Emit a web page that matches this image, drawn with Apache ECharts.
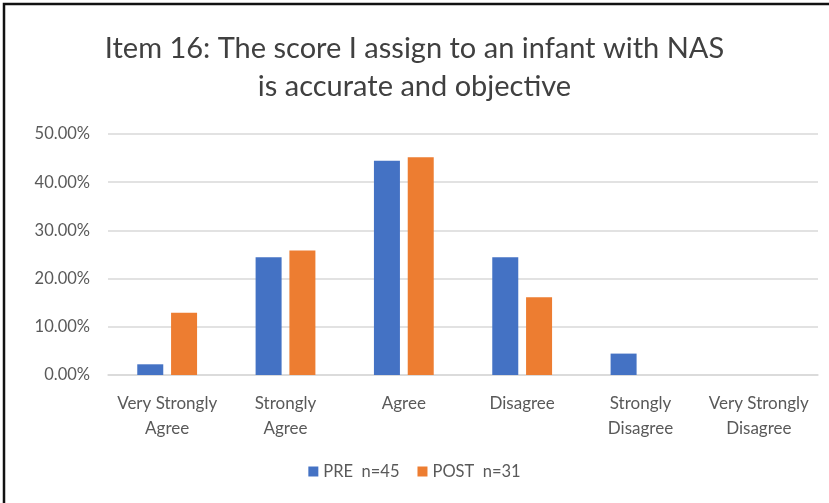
<!DOCTYPE html>
<html><head><meta charset="utf-8">
<script src="https://cdn.jsdelivr.net/npm/echarts@6/dist/echarts.min.js"></script>
<style>html,body{margin:0;padding:0;background:#fff}#c{width:829px;height:503px}</style>
</head><body><div id="c"></div>
<script>
var categories = ["Very Strongly\nAgree", "Strongly\nAgree", "Agree", "Disagree", "Strongly\nDisagree", "Very Strongly\nDisagree"];
var preValues = [0.0222, 0.2444, 0.4444, 0.2444, 0.0444, 0];
var postValues = [0.1290, 0.2581, 0.4516, 0.1613, 0, 0];
var seriesNames = ["PRE  n=45", "POST  n=31"];
var titleText = "Item 16: The score I assign to an infant with NAS\nis accurate and objective";

var font = "Lato, 'Open Sans', sans-serif";
var chart = echarts.init(document.getElementById('c'), null, {renderer: 'canvas'});
chart.setOption({
  animation: false,
  backgroundColor: '#fff',
  color: ['#4472C4', '#ED7D31'],
  title: {
    text: titleText, left: 'center', top: 25,
    textStyle: {fontFamily: font, fontSize: 29, fontWeight: 'normal', color: '#404040', lineHeight: 38}
  },
  graphic: [{type: 'rect', shape: {x: 4, y: 4, width: 900, height: 600}, style: {fill: 'none', stroke: '#111', lineWidth: 2.5}, silent: true}],
  legend: {
    data: seriesNames, bottom: 18, left: 'center', itemWidth: 10, itemHeight: 10, itemGap: 18, icon: 'rect',
    textStyle: {fontFamily: font, fontSize: 16.5, color: '#595959'}
  },
  grid: {left: 108, right: 11, top: 134, bottom: 128},
  xAxis: {
    type: 'category', data: categories,
    axisLine: {show: true, lineStyle: {color: '#d9d9d9', width: 1.5}},
    axisTick: {show: false},
    axisLabel: {fontFamily: font, fontSize: 17, color: '#595959', lineHeight: 25, margin: 16, interval: 0}
  },
  yAxis: {
    type: 'value', min: 0, max: 0.5, interval: 0.1,
    axisLine: {show: false}, axisTick: {show: false},
    splitLine: {lineStyle: {color: '#d9d9d9', width: 1.5}},
    axisLabel: {fontFamily: font, fontSize: 16.5, color: '#595959', margin: 18,
      formatter: function (v) { return (v * 100).toFixed(2) + '%'; }}
  },
  series: [
    {name: seriesNames[0], type: 'bar', data: preValues, barWidth: 26, barGap: '30%'},
    {name: seriesNames[1], type: 'bar', data: postValues, barWidth: 26, barGap: '30%'}
  ]
});
</script></body></html>
